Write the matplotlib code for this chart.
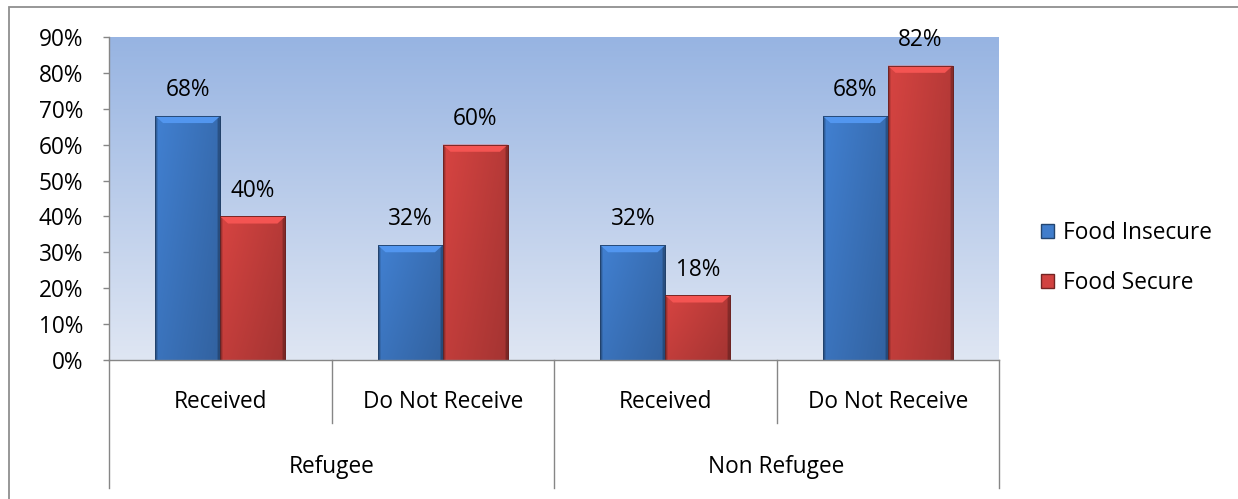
import matplotlib.pyplot as plt
import matplotlib.transforms as mtransforms
import numpy as np
from matplotlib.colors import LinearSegmentedColormap
from matplotlib.patches import Patch, Polygon, Rectangle

plt.rcParams['font.family'] = ['Open Sans', 'DejaVu Sans']
plt.rcParams['font.size'] = 16.3

groups = ["Refugee", "Non Refugee"]
categories = ["Received", "Do Not Receive", "Received", "Do Not Receive"]
food_insecure = [0.68, 0.32, 0.32, 0.68]
food_secure = [0.40, 0.60, 0.18, 0.82]
yticks = [0.0, 0.1, 0.2, 0.3, 0.4, 0.5, 0.6, 0.7, 0.8, 0.9]

blue = np.array([0.25, 0.49, 0.80])
red = np.array([0.82, 0.26, 0.25])
grey = "#868686"

W, H = 1238, 499
fig = plt.figure(figsize=(W / 100, H / 100), dpi=100)
ax = fig.add_axes([109 / W, 1 - 360 / H, 890 / W, 323 / H])

# outer chart border (cut off on the right and bottom)
fig.add_artist(Rectangle((9 / W, -0.2), 1.3, 1.2 - 7 / H, transform=fig.transFigure,
                         fill=False, edgecolor="#8f8f8f", lw=1.3))

x = np.arange(len(categories))
xmin, xmax = -0.5, len(categories) - 0.5
ymax = 0.9

# plot area: vertical gradient from light blue-grey up to blue
bg = LinearSegmentedColormap.from_list("bg", ["#dfe6f3", "#97b4e2"])
ax.imshow(np.linspace(1, 0, 256).reshape(-1, 1), extent=[xmin, xmax, 0, ymax],
          aspect="auto", cmap=bg, zorder=0)


def shade(base, nx=80, ny=80):
    t = np.linspace(0, 1, nx)
    s = np.linspace(0, 1, ny).reshape(-1, 1)
    fx = 1.03 - 0.16 * t
    fx = np.where((t < 0.03) | (t > 0.97), fx * 0.75, fx)
    fy = 1.0 - 0.10 * s
    img = base[None, None, :] * (fx[None, :] * fy)[:, :, None]
    return np.clip(img, 0, 1)


def draw_bars(xs, vals, base):
    bars = ax.bar(xs, vals, width=bw, color=base, edgecolor=base * 0.55, lw=0.6, zorder=2)
    for p in bars:
        x0, w, h = p.get_x(), p.get_width(), p.get_height()
        im = ax.imshow(shade(base), extent=[x0, x0 + w, 0, h], aspect="auto",
                       origin="upper", zorder=2.1)
        im.set_clip_path(p)
        dx, dy = w * 0.12, ymax * 0.022
        top = Polygon([(x0, h), (x0 + w, h), (x0 + w - dx, h - dy), (x0 + dx, h - dy)],
                      closed=True, facecolor=np.clip(base * 1.12 + 0.04, 0, 1),
                      edgecolor="none", zorder=2.2)
        ax.add_patch(top)
        ax.add_patch(Rectangle((x0, 0), w, h, fill=False, edgecolor=base * 0.5,
                               lw=0.6, zorder=2.3))
        ax.annotate(f"{h * 100:.0f}%", (x0 + w / 2, h), xytext=(0, 18.5),
                    textcoords="offset points", ha="center", va="center",
                    zorder=4, annotation_clip=False)
    return bars


bw = 0.292
draw_bars(x - bw / 2, food_insecure, blue)
draw_bars(x + bw / 2, food_secure, red)

ax.set_xlim(xmin, xmax)
ax.set_ylim(0, ymax)
ax.set_yticks(yticks)
ax.set_yticklabels([f"{v * 100:.0f}%" for v in yticks])
ax.set_xticks([])
ax.tick_params(axis="y", length=4.5, width=1, color=grey, pad=14)
for side in ["top", "right"]:
    ax.spines[side].set_visible(False)
for side in ["left", "bottom"]:
    ax.spines[side].set_color(grey)
    ax.spines[side].set_linewidth(1)

# two-level category axis
trans = mtransforms.blended_transform_factory(ax.transData, ax.transAxes)
for i, name in enumerate(categories):
    ax.text(x[i], -0.130, name, transform=trans, ha="center", va="center")
for g, name in enumerate(groups):
    ax.text(2 * g + 0.5, -0.331, name, transform=trans, ha="center", va="center")
for sep in np.arange(xmin, xmax + 0.01, 1.0):
    low = -0.396 if (sep - xmin) % 2 == 0 else -0.195
    ax.plot([sep, sep], [0, low], transform=trans, color=grey, lw=1, clip_on=False)

handles = [Patch(facecolor=blue, edgecolor=blue * 0.55), Patch(facecolor=red, edgecolor=red * 0.55)]
ax.legend(handles, ["Food Insecure", "Food Secure"], loc="center left",
          bbox_to_anchor=(1030 / W, 1 - 258 / H), bbox_transform=fig.transFigure,
          frameon=False, borderpad=0, labelspacing=1.15, handlelength=0.55,
          handleheight=0.55, handletextpad=0.4)

fig.savefig("out.png", dpi=100)
